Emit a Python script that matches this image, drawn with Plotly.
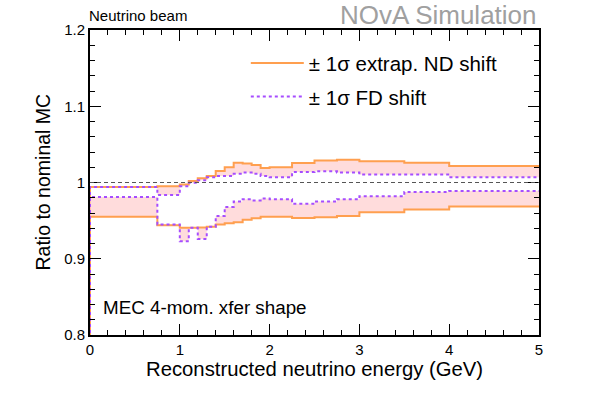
import plotly.graph_objects as go

# bin edges (GeV) and ratio values
edges = [0, 0.75, 1.0, 1.1, 1.2, 1.3, 1.4, 1.5, 1.6, 1.7, 1.8, 1.9, 2.0,
         2.25, 2.5, 2.75, 3.0, 3.5, 4.0, 5.0]
nd_up = [0.994, 0.995, 0.9975, 1.002, 1.0055, 1.0085, 1.015, 1.020, 1.026, 1.025,
         1.023, 1.019, 1.020, 1.0255, 1.029, 1.030, 1.028, 1.026, 1.0215]
nd_dn = [0.955, 0.944, 0.9405, 0.9405, 0.941, 0.942, 0.945, 0.9465, 0.948, 0.951,
         0.953, 0.955, 0.955, 0.9536, 0.9545, 0.956, 0.961, 0.9646, 0.9685]
fd_up = [0.994, 0.9835, 0.995, 0.9997, 1.003, 1.007, 1.0085, 1.0085, 1.0115, 1.013,
         1.0115, 1.0085, 1.007, 1.0138, 1.0146, 1.013, 1.0106, 1.0106, 1.007]
fd_dn = [0.981, 0.945, 0.923, 0.9405, 0.926, 0.942, 0.956, 0.968, 0.975, 0.978,
         0.9765, 0.979, 0.978, 0.972, 0.975, 0.978, 0.982, 0.9874, 0.9887]

ORANGE = "#ff9f4f"
PURPLE = "#a64dff"
PINK = "rgba(255,205,205,0.7)"
FONT = "Liberation Sans, Arial, Helvetica, sans-serif"

nd_line = dict(color=ORANGE, width=2)
fd_line = dict(color=PURPLE, width=2, dash="3px,3px")


def step(vals):
    # histogram outline: rises from the baseline at the first edge
    xs = [edges[0]] + list(edges)
    ys = [0] + list(vals) + [vals[-1]]
    return xs, ys


fig = go.Figure()

for up, fd in [(nd_up, fd_up), (nd_dn, fd_dn)]:
    x1, y1 = step(up)
    x2, y2 = step(fd)
    fig.add_trace(go.Scatter(x=x1, y=y1, mode="lines", line_shape="hv",
                             line=nd_line, showlegend=False))
    fig.add_trace(go.Scatter(x=x2, y=y2, mode="lines", line_shape="hv",
                             line=fd_line, fill="tonexty", fillcolor=PINK,
                             showlegend=False))

# legend entries (line only, no fill swatch)
fig.add_trace(go.Scatter(x=[None], y=[None], mode="lines", line=nd_line,
                         name="± 1σ extrap. ND shift", legendgroup="nd"))
fig.add_trace(go.Scatter(x=[None], y=[None], mode="lines", line=fd_line,
                         name="± 1σ FD shift", legendgroup="fd"))

fig.add_hline(y=1, line=dict(color="#555555", width=1, dash="4px,3px"))

axis_common = dict(showgrid=False, zeroline=False, showline=True, linecolor="black",
                   linewidth=2, mirror="ticks", ticks="inside", ticklen=11,
                   tickcolor="black", tickwidth=1,
                   tickfont=dict(family=FONT, size=15, color="black"))

fig.update_xaxes(range=[0, 5], dtick=1, tick0=0,
                 minor=dict(dtick=0.2, ticks="inside", ticklen=5, tickcolor="black"),
                 **axis_common)
fig.update_yaxes(range=[0.8, 1.2], dtick=0.1, tick0=0.8,
                 minor=dict(dtick=0.02, ticks="inside", ticklen=5, tickcolor="black"),
                 **axis_common)

# axis titles
fig.add_annotation(text="Reconstructed neutrino energy (GeV)", xref="paper", yref="paper",
                   x=0.5, y=0, xanchor="center", yanchor="middle", yshift=-34,
                   showarrow=False, font=dict(family=FONT, size=20.3, color="black"))
fig.add_annotation(text="Ratio to nominal MC", xref="paper", yref="paper",
                   x=0, y=0.5, xanchor="center", yanchor="middle", xshift=-48,
                   textangle=-90, showarrow=False,
                   font=dict(family=FONT, size=19.5, color="black"))

fig.add_annotation(text="NOvA Simulation", xref="paper", yref="paper", x=1.0, y=1.0,
                   xanchor="right", yanchor="top", yshift=32, showarrow=False,
                   font=dict(family=FONT, size=26, color="#a0a0a0"))
fig.add_annotation(text="Neutrino beam", xref="paper", yref="paper", x=0.0, y=1.0,
                   xanchor="left", yanchor="bottom", yshift=4, xshift=-3, showarrow=False,
                   font=dict(family=FONT, size=15, color="black"))
fig.add_annotation(text="MEC 4-mom. xfer shape", xref="paper", yref="paper",
                   x=0.025, y=0.09, xanchor="left", yanchor="middle", showarrow=False,
                   font=dict(family=FONT, size=18.8, color="black"))

fig.update_layout(
    width=598, height=397,
    margin=dict(l=90, r=59, t=30, b=62),
    paper_bgcolor="white", plot_bgcolor="white",
    legend=dict(x=0.347, y=0.957, xanchor="left", yanchor="top",
                bgcolor="rgba(0,0,0,0)", tracegroupgap=4, itemwidth=53,
                font=dict(family=FONT, size=20.5, color="black")),
)

# drop the default 8px page margin so the figure fills the window
fig.write_html("out.html", config={"displayModeBar": False},
               post_script="document.body.style.margin='0';")
